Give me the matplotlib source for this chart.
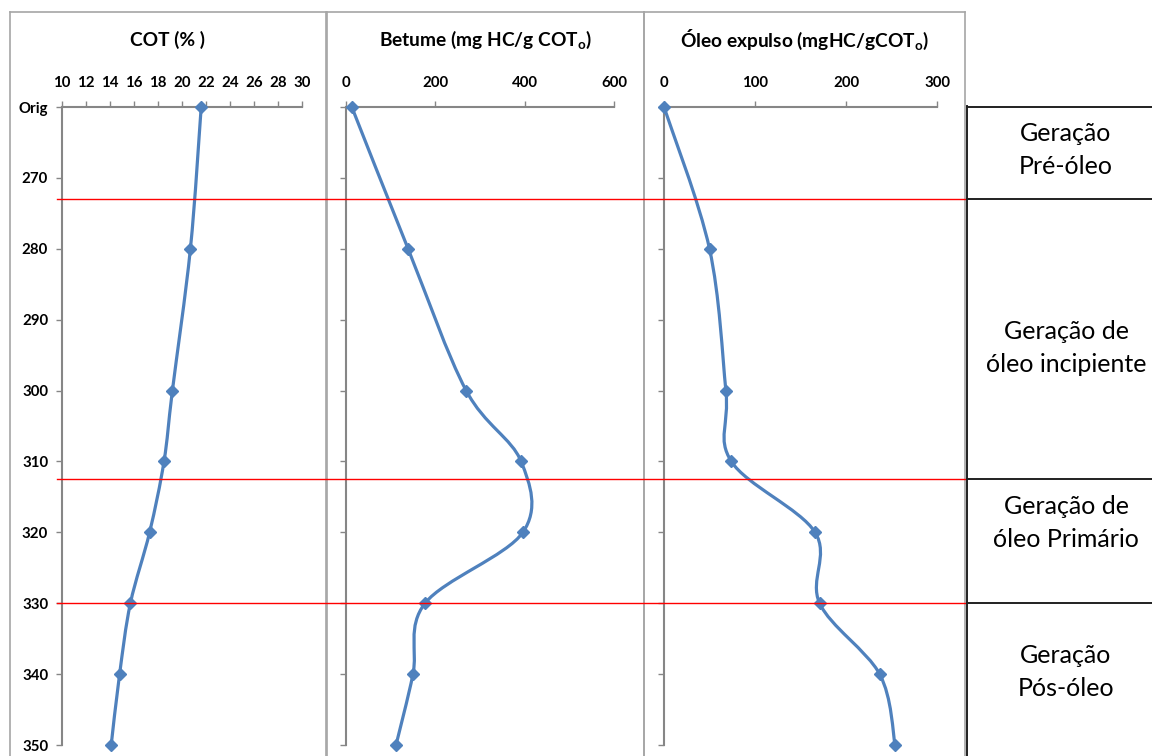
"""
Perfis de COT, betume e óleo expulso vs. profundidade/temperatura
"""

import matplotlib
matplotlib.use('Agg')
import matplotlib.pyplot as plt
import matplotlib.transforms as mtransforms
from matplotlib.path import Path
from matplotlib.patches import PathPatch
from matplotlib.lines import Line2D

plt.rcParams['font.family'] = ['Lato', 'DejaVu Sans']
plt.rcParams['mathtext.fontset'] = 'custom'
plt.rcParams['mathtext.rm'] = 'Lato'
plt.rcParams['mathtext.bf'] = 'Lato:bold'

# --- dados ---
depth = [260, 280, 300, 310, 320, 330, 340, 350]
cot = [21.6, 20.7, 19.2, 18.5, 17.3, 15.7, 14.8, 14.1]
betume = [13, 139, 269, 392, 396, 177, 150, 112]
oleo_expulso = [0, 50, 68, 74, 166, 171, 237, 254]

ytick_vals = [260, 270, 280, 290, 300, 310, 320, 330, 340, 350]
ytick_labels = ['Orig', '270', '280', '290', '300', '310', '320', '330', '340', '350']

zone_limits = [273, 312.5, 330]
zone_labels = ['Geração\nPré-óleo', 'Geração de\nóleo incipiente',
               'Geração de\nóleo Primário', 'Geração\nPós-óleo']

W, H = 1152, 756
BLUE = '#4F81BD'
AXGREY = '#868686'
BORDER = '#A6A6A6'


def fx(px):
    return px / W


def fy(py):
    return 1 - py / H


def smooth_path(x, y):
    # curva suave tipo Excel (Bezier cúbica, Catmull-Rom)
    pts = list(zip(x, y))
    n = len(pts)
    verts = [pts[0]]
    codes = [Path.MOVETO]
    for i in range(n - 1):
        p0 = pts[i - 1] if i > 0 else pts[i]
        p1 = pts[i]
        p2 = pts[i + 1]
        p3 = pts[i + 2] if i + 2 < n else pts[i + 1]
        c1 = (p1[0] + (p2[0] - p0[0]) / 6, p1[1] + (p2[1] - p0[1]) / 6)
        c2 = (p2[0] - (p3[0] - p1[0]) / 6, p2[1] - (p3[1] - p1[1]) / 6)
        verts += [c1, c2, p2]
        codes += [Path.CURVE4] * 3
    return Path(verts, codes)


fig = plt.figure(figsize=(W / 100, H / 100), dpi=100)

# bordas dos painéis
panels = [(10, 326), (327, 644), (644, 965)]
for x0, x1 in panels:
    for xs, ys in [([x0, x1], [12, 12]), ([x0, x0], [12, 760]), ([x1, x1], [12, 760])]:
        fig.add_artist(Line2D([fx(v) for v in xs], [fy(v) for v in ys],
                              color=BORDER, lw=1.2, zorder=0))

# eixos: (x0_px, x1_px, xlim, xticks, valores, titulo)
specs = [
    (62, 302, (10, 30), list(range(10, 31, 2)), cot, 'COT (% )'),
    (346, 614, (0, 600), [0, 200, 400, 600], betume, r'Betume (mg HC/g COT$_\mathbf{o}$)'),
    (664, 937, (0, 300), [0, 100, 200, 300], oleo_expulso, r'Óleo expulso (mgHC/gCOT$_\mathbf{o}$)'),
]

axes = []
for i, (x0, x1, xlim, xticks, vals, title) in enumerate(specs):
    ax = fig.add_axes([fx(x0), fy(745), fx(x1) - fx(x0), (745 - 107) / H])
    ax.set_xlim(*xlim)
    ax.set_ylim(350, 260)
    ax.patch.set_alpha(0)
    for s in ['right', 'bottom']:
        ax.spines[s].set_visible(False)
    for s in ['left', 'top']:
        ax.spines[s].set_color(AXGREY)
        ax.spines[s].set_linewidth(1.5)
    ax.xaxis.tick_top()
    ax.set_xticks(xticks)
    ax.set_yticks(ytick_vals)
    if i == 0:
        ax.set_yticklabels(ytick_labels)
    else:
        ax.set_yticklabels([])
    ax.tick_params(axis='x', direction='out', length=4, width=1, color=AXGREY,
                   pad=8, labelsize=10.8)
    ax.tick_params(axis='y', direction='out', length=4, width=1, color=AXGREY,
                   pad=6, labelsize=10.8)
    for lab in ax.get_xticklabels() + ax.get_yticklabels():
        lab.set_fontweight('bold')

    ax.add_patch(PathPatch(smooth_path(vals, depth), facecolor='none',
                           edgecolor=BLUE, lw=2.3, capstyle='round', zorder=3))
    ax.plot(vals, depth, linestyle='none', marker='D', markersize=6.5,
            color=BLUE, zorder=4, clip_on=False)

    xc = (panels[i][0] + panels[i][1]) / 2
    fig.text(fx(xc), fy(40), title, ha='center', va='center',
             fontsize=13.8, fontweight='bold')
    axes.append(ax)

# linhas vermelhas de limite das zonas
trans = mtransforms.blended_transform_factory(fig.transFigure, axes[0].transData)
for z in zone_limits:
    fig.add_artist(Line2D([fx(57), fx(965)], [z, z], transform=trans,
                          color='red', lw=1.0, zorder=5))

# tabela das zonas à direita
for z in [260] + zone_limits:
    fig.add_artist(Line2D([fx(967), 1.0], [z, z], transform=trans,
                          color='#202020', lw=1.4, zorder=5))
fig.add_artist(Line2D([fx(967), fx(967)], [fy(106), 0], color='#202020',
                      lw=1.4, zorder=5))

label_y = [150, 348, 523, 672]
for lab, py in zip(zone_labels, label_y):
    fig.text(fx(1066), fy(py), lab, ha='center', va='center', fontsize=18,
             linespacing=1.55)

fig.savefig('out.png', dpi=100)
